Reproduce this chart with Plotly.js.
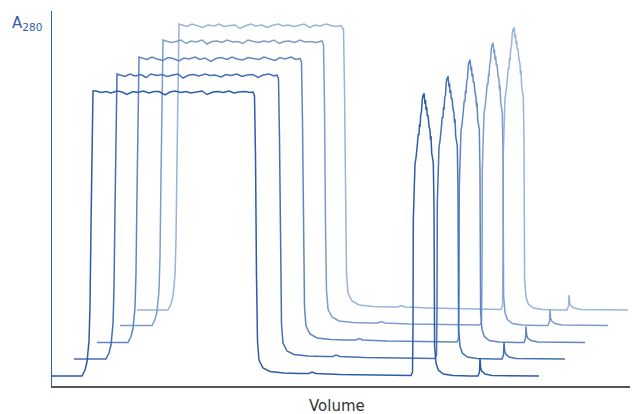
<!DOCTYPE html>
<html>
<head>
<meta charset="utf-8">
<script src="https://cdn.plot.ly/plotly-3.0.1.min.js"></script>
<style>html,body{margin:0;padding:0;background:#fff;}#chart{width:632px;height:414px;}</style>
</head>
<body>
<div id="chart"></div>
<script>
// Stacked A280 chromatograms (waterfall)
const run1Vol = [52,82,85,87,89,90,91,92,93,
  96,101,106,111,117,122,127,133,138,143,149,154,159,165,170,175,181,186,191,197,202,207,213,218,223,229,234,239,245,250,253,
  254.5,255.5,256.5,257.5,259,263,270,284,300,309,312,316,340,380,400,410,
  411,412.5,413,413.3,414.3,415,416,416.7,417.5,418.2,419,419.5,420,420.7,421.5,422.3,423,423.5,424,425,425.5,426,426.7,427.3,428,429,430,430.5,431,431.7,432.5,433.3,434,434.6,436,438.3,443.3,453,470,
  478,479.5,480,480.7,481.7,485,492,539];
const run1Abs = [10,10,16,24,45,80,160,260,295,
  295,293.5,294.5,293,295,294,291.5,294.5,293.5,295,293,294.5,294.5,291,294,295,293.5,294.5,293,294,295,291.5,294,294.5,293.5,295,293,294,294.5,293.5,294,
  290,230,110,45,26,18,14.5,13,12.5,12.5,14,12.5,11.5,11,10.5,10.5,
  10.5,14,60,166,209,222,228,240,243,252,251,262,259,271,274,287,291,289,293,282,286,276,279,270,271,260,256,246,250,233,229,223,180,40,23,16,12,10.5,10,
  10,14,28,18,15,12,10.5,10];

const run2Vol = [74,106,109,111,113,114,115,116,117,
  120,125,130,135,141,146,151,157,162,167,173,178,183,189,194,199,205,210,215,221,226,231,237,242,247,253,258,263,269,274,277,
  278.5,279.5,280.5,281.5,283,287,294,308,324,333,336,340,364,404,424,433,
  435,436.5,437,437.3,438.3,439,440,440.7,441.5,442.2,443,443.5,444,444.7,445.5,446.3,447,447.5,448,449,449.5,450,450.7,451.3,452,453,454,454.5,455,455.7,456.5,457.3,458,458.6,460,462.3,467.3,477,494,
  502,503.5,504,504.7,505.7,509,516,565];
const run2Abs = [27,27,33,41,62,97,177,277,312,
  311,309.5,312,310,311.5,308.5,312,310.5,311.5,309.5,311,312,308,311,311.5,310,312,310.5,311,309,311.5,310.5,312,309.5,311,311.5,308.5,311,312,310,311,
  307,247,127,62,43,35,31.5,30,29.5,29.5,31,29.5,28.5,28,27.5,27.5,
  27.5,31,77,183,226,239,245,257,260,269,268,279,276,288,291,304,308,306,310,299,303,293,296,287,288,277,273,263,267,250,246,240,197,57,40,33,29,27.5,27,
  27,31,44,35,32,29,27.5,27];

const run3Vol = [97,128,131,133,135,136,137,138,139,
  142,147,152,157,163,168,173,179,184,189,195,200,205,211,216,221,227,232,237,243,248,253,259,264,269,275,280,285,291,296,300,
  301.5,302.5,303.5,304.5,306,310,317,331,347,356,359,363,387,427,447,456,
  457,458.5,459,459.3,460.3,461,462,462.7,463.5,464.2,465,465.5,466,466.7,467.5,468.3,469,469.5,470,471,471.5,472,472.7,473.3,474,475,476,476.5,477,477.7,478.5,479.3,480,480.6,482,484.3,489.3,499,516,
  524,525.5,526,526.7,527.7,531,538,585];
const run3Abs = [43.5,43.5,49.5,57.5,78,113,193,293,329,
  328,326.5,329,327,325.5,328.5,327.5,325,328,327,329,326.5,328,324.5,327.5,328.5,326.5,329,327,326,328.5,327.5,326.5,329,327.5,325.5,328.5,327,329,326.5,327.5,
  324,264,144,79,60,52,48,46.5,46,46,47.5,46,45,44.5,44,44,
  44,47.5,93.5,199.5,242.5,255.5,261.5,273.5,276.5,285.5,284.5,295.5,292.5,304.5,307.5,320.5,324.5,322.5,326.5,315.5,319.5,309.5,312.5,303.5,304.5,293.5,289.5,279.5,283.5,266.5,262.5,256.5,213.5,73.5,56.5,49.5,45.5,44,43.5,
  43.5,47.5,59.5,51,48,45.5,44,43.5];

const run4Vol = [120,152,155,157,159,160,161,162,163,
  166,171,176,181,186,191,196,202,207,212,217,222,227,233,238,243,248,253,258,264,269,274,279,284,289,295,300,305,310,316,322,
  323.5,324.5,325.5,326.5,328,332,339,353,369,378,381,385,409,449,470,478,
  480,481.5,482,482.3,483.3,484,485,485.7,486.5,487.2,488,488.5,489,489.7,490.5,491.3,492,492.5,493,494,494.5,495,495.7,496.3,497,498,499,499.5,500,500.7,501.5,502.3,503,503.6,505,507.3,512.3,522,539,
  548,549.5,550,550.7,551.7,555,562,608];
const run4Abs = [60.5,60.5,66.5,74.5,95,130,210,310,346,
  345,343.5,344.5,346,342.5,345,344,346,342,344.5,345,343.5,346,344,344.5,342.5,346,344.5,343.5,345,344,346,342.5,344.5,345,343.5,346,344,344.5,343.5,345,
  341,281,161,96,77,69,65,63.5,63,63,64.5,63,62,61.5,61,61,
  61,64.5,110.5,216.5,259.5,272.5,278.5,290.5,293.5,302.5,301.5,312.5,309.5,321.5,324.5,337.5,341.5,339.5,343.5,332.5,336.5,326.5,329.5,320.5,321.5,310.5,306.5,296.5,300.5,283.5,279.5,273.5,230.5,90.5,73.5,66.5,62.5,61,60.5,
  60.5,64.5,76,67.5,65,62.5,61,60.5];

const run5Vol = [137,168,171,173,175,176,177,178,179,
  182,187,192,198,203,208,214,219,224,230,235,240,246,251,256,262,267,272,278,283,288,294,299,304,310,315,320,326,331,336,341,
  343.5,344.5,345.5,346.5,348,352,359,373,389,398,401,405,429,469,489,497,
  501,502.5,503,503.3,504.3,505,506,506.7,507.5,508.2,509,509.5,510,510.7,511.5,512.3,513,513.5,514,515,515.5,516,516.7,517.3,518,519,520,520.5,521,521.7,522.5,523.3,524,524.6,526,528.3,533.3,543,560,
  567,568.5,569,569.7,570.7,574,581,628];
const run5Abs = [76,76,82,90,111,146,226,326,362,
  361,359.5,362,360.5,358.5,361,360,362,359.5,360.5,361,357.5,360.5,362,360,361,358.5,360.5,362,360,361,359.5,360.5,362,358.5,361,360,362,360.5,359.5,360.5,
  357,297,177,112,93,85,81,79.5,79,79,80.5,79,78,77.5,77,77,
  76.5,80,126,232,275,288,294,306,309,318,317,328,325,337,340,353,357,355,359,348,352,342,345,336,337,326,322,312,316,299,295,289,246,106,89,82,78,76.5,76,
  76,80,91,83,80,78,76.5,76];

const runs = [
  {vol: run5Vol, abs: run5Abs, color: '#9ab3d9'},
  {vol: run4Vol, abs: run4Abs, color: '#7c9ccc'},
  {vol: run3Vol, abs: run3Abs, color: '#5f86c0'},
  {vol: run2Vol, abs: run2Abs, color: '#4471b3'},
  {vol: run1Vol, abs: run1Abs, color: '#2b5ca8'}
];

const traces = runs.map(r => ({
  x: r.vol, y: r.abs, type: 'scatter', mode: 'lines',
  line: {color: r.color, width: 1.5},
  hoverinfo: 'skip', showlegend: false
}));

const layout = {
  width: 632, height: 414,
  margin: {l: 52, r: 2, t: 11, b: 28},
  paper_bgcolor: '#ffffff', plot_bgcolor: '#ffffff',
  font: {family: 'DejaVu Sans, sans-serif'},
  xaxis: {
    range: [52, 630], showgrid: false, zeroline: false, showticklabels: false, ticks: '',
    showline: true, linecolor: '#555555', linewidth: 2
  },
  yaxis: {
    range: [0, 375], showgrid: false, zeroline: false, showticklabels: false, ticks: '',
    showline: true, linecolor: '#2f60aa', linewidth: 1.5
  },
  annotations: [
    {
      text: 'A<sub>280</sub>', xref: 'paper', yref: 'paper', x: 0, y: 1,
      xanchor: 'right', yanchor: 'top', xshift: -8, yshift: -1, showarrow: false,
      font: {size: 15, color: '#2f60aa'}
    },
    {
      text: 'Volume', xref: 'paper', yref: 'paper', x: 0.5, y: 0,
      xanchor: 'center', yanchor: 'top', xshift: -4, yshift: -9, showarrow: false,
      font: {size: 15, color: '#333333'}
    }
  ]
};

Plotly.newPlot('chart', traces, layout, {displayModeBar: false, staticPlot: true});
</script>
</body>
</html>
